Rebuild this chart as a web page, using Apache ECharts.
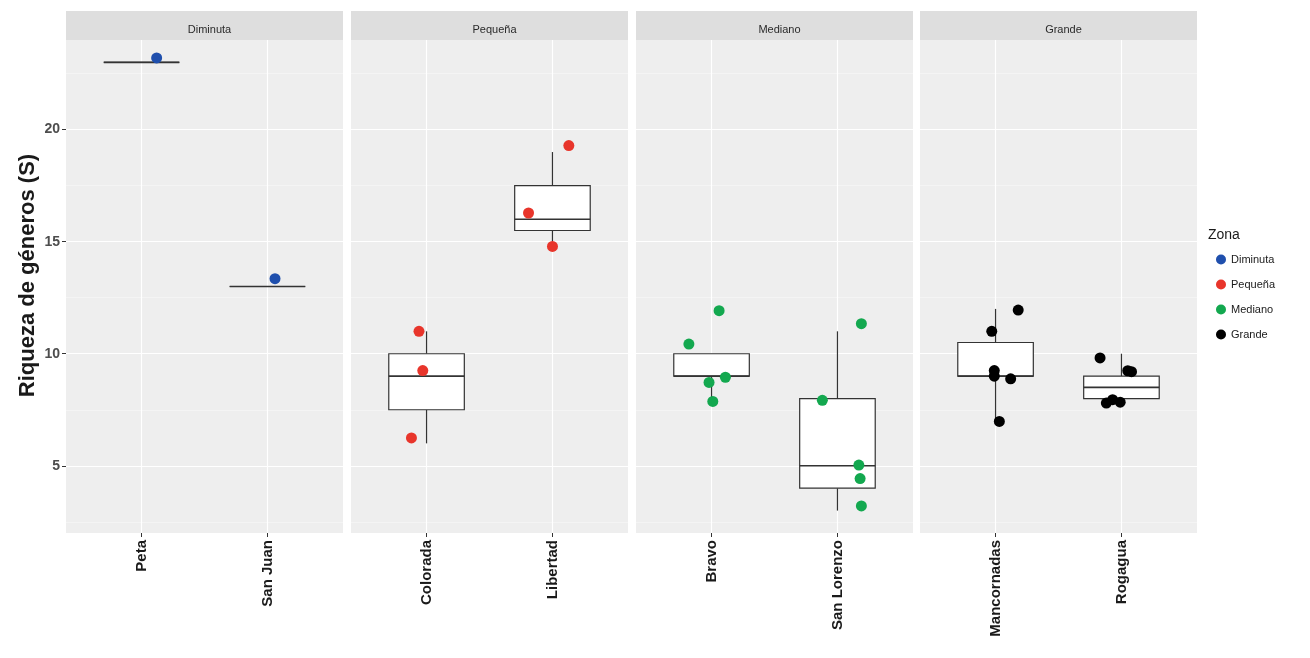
<!DOCTYPE html>
<html>
<head>
<meta charset="utf-8">
<script src="https://cdn.jsdelivr.net/npm/echarts@6/dist/echarts.min.js"></script>
<style>html,body{margin:0;padding:0;background:#fff}#c{width:1310px;height:658px}</style>
</head>
<body>
<div id="c"></div>
<script>
// ---- data ----
const zonas = ['Diminuta', 'Pequeña', 'Mediano', 'Grande'];
const colores = ['#1f4fad', '#e8352b', '#13a84f', '#000000'];
const sitios = [['Peta', 'San Juan'], ['Colorada', 'Libertad'], ['Bravo', 'San Lorenzo'], ['Mancornadas', 'Rogagua']];
const yTicks = [5, 10, 15, 20];
// box stats per site: [min, Q1, median, Q3, max]
const cajasDiminuta = [[23, 23, 23, 23, 23], [13, 13, 13, 13, 13]];
const cajasPequena = [[6, 7.5, 9, 10, 11], [15, 15.5, 16, 17.5, 19]];
const cajasMediano = [[8, 9, 9, 10, 10], [3, 4, 5, 8, 11]];
const cajasGrande = [[7, 9, 9, 10.5, 12], [8, 8, 8.5, 9, 10]];
// jittered points: [site position (1 or 2, jittered), riqueza]
const puntosDiminuta = [[1.12, 23.2], [2.06, 13.35]];
const puntosPequena = [[0.94, 11.0], [0.97, 9.25], [0.88, 6.24], [2.13, 19.29], [1.81, 16.28], [2.0, 14.79]];
const puntosMediano = [[1.06, 11.92], [0.82, 10.43], [0.98, 8.72], [1.11, 8.95], [1.01, 7.87],
  [2.19, 11.34], [1.88, 7.92], [2.17, 5.03], [2.18, 4.43], [2.19, 3.21]];
const puntosGrande = [[1.18, 11.95], [0.97, 11.0], [0.99, 9.25], [0.99, 9.0], [1.12, 8.88], [1.03, 6.98],
  [1.83, 9.81], [2.05, 9.24], [2.08, 9.2], [1.88, 7.8], [1.93, 7.95], [1.99, 7.84]];

const cajas = [cajasDiminuta, cajasPequena, cajasMediano, cajasGrande];
const puntos = [puntosDiminuta, puntosPequena, puntosMediano, puntosGrande];

// ---- layout ----
const FONT = '"Liberation Sans", Arial, sans-serif';
const panelLeft = [66, 351, 636, 920];
const panelW = 277, panelTop = 40, panelH = 493, stripTop = 11, stripH = 29;

const grids = [], xAxes = [], yAxes = [], series = [], titles = [];
panelLeft.forEach((L, i) => {
  grids.push({ left: L, top: panelTop, width: panelW, height: panelH, show: true, backgroundColor: '#eeeeee', borderWidth: 0 });
  grids.push({ left: L, top: stripTop, width: panelW, height: stripH, show: true, backgroundColor: '#dedede', borderWidth: 0 });
  titles.push({ text: zonas[i], left: L + panelW / 2, top: stripTop + 8, textAlign: 'center',
    textStyle: { fontSize: 11, fontWeight: 'normal', color: '#2a2a2a', fontFamily: FONT } });
  const labs = sitios[i];
  xAxes.push({
    type: 'value', gridIndex: 2 * i, min: 0.4, max: 2.6, splitNumber: 2, minInterval: 1, maxInterval: 1,
    axisLine: { show: false },
    axisTick: { show: true, length: 4, lineStyle: { color: '#333' }, customValues: [1, 2] },
    axisLabel: { show: true, customValues: [1, 2], rotate: 90, margin: 7, fontSize: 15, fontWeight: 'bold', color: '#1a1a1a', fontFamily: FONT,
      formatter: v => (Math.abs(v - 1) < 1e-6 ? labs[0] : (Math.abs(v - 2) < 1e-6 ? labs[1] : '')) },
    splitLine: { show: true, lineStyle: { color: '#ffffff', width: 1.2 } }
  });
  yAxes.push({
    type: 'value', gridIndex: 2 * i, min: 2, max: 24, splitNumber: 5,
    name: i === 0 ? 'Riqueza de géneros (S)' : '', nameLocation: 'middle', nameGap: 27,
    nameTextStyle: { fontSize: 22, fontWeight: 'bold', color: '#1a1a1a', fontFamily: FONT, padding: [0, 0, 0, 22] },
    axisLine: { show: false },
    axisTick: { show: i === 0, length: 4, lineStyle: { color: '#333' }, customValues: yTicks },
    axisLabel: { show: i === 0, customValues: yTicks, margin: 6, fontSize: 14, fontWeight: 'bold', color: '#4d4d4d', fontFamily: FONT },
    splitLine: { show: true, lineStyle: { color: '#ffffff', width: 1.2 } },
    minorTick: { show: false, splitNumber: 2 },
    minorSplitLine: { show: true, lineStyle: { color: '#f8f8f8', width: 0.6 } }
  });
  series.push({
    type: 'custom', name: 'caja' + i, xAxisIndex: i, yAxisIndex: i, z: 2,
    data: cajas[i].map((s, k) => [k + 1].concat(s)),
    encode: { x: 0, y: [1, 2, 3, 4, 5] },
    renderItem: function (params, api) {
      const x = api.value(0);
      const lo = api.coord([x, api.value(1)]);
      const q1 = api.coord([x, api.value(2)]);
      const md = api.coord([x, api.value(3)]);
      const q3 = api.coord([x, api.value(4)]);
      const hi = api.coord([x, api.value(5)]);
      const hw = api.size([0.6, 0])[0] / 2;
      const st = { stroke: '#333333', lineWidth: 1.2, fill: null };
      return { type: 'group', children: [
        { type: 'line', shape: { x1: lo[0], y1: lo[1], x2: q1[0], y2: q1[1] }, style: st },
        { type: 'line', shape: { x1: q3[0], y1: q3[1], x2: hi[0], y2: hi[1] }, style: st },
        { type: 'rect', shape: { x: q1[0] - hw, y: q3[1], width: 2 * hw, height: q1[1] - q3[1] }, style: { fill: '#ffffff', stroke: '#333333', lineWidth: 1.2 } },
        { type: 'line', shape: { x1: md[0] - hw, y1: md[1], x2: md[0] + hw, y2: md[1] }, style: { stroke: '#333333', lineWidth: 1.6 } }
      ] };
    }
  });
});
panelLeft.forEach((L, i) => {
  series.push({
    type: 'scatter', name: zonas[i], xAxisIndex: i, yAxisIndex: i, z: 3,
    symbol: 'circle', symbolSize: 11, itemStyle: { color: colores[i], opacity: 1 },
    data: puntos[i]
  });
});
titles.push({ text: 'Zona', left: 1203, top: 223, textStyle: { fontSize: 14, fontWeight: 'normal', color: '#1a1a1a', fontFamily: FONT } });

const chart = echarts.init(document.getElementById('c'), null, { renderer: 'canvas' });
chart.setOption({
  animation: false,
  backgroundColor: '#ffffff',
  title: titles,
  grid: grids,
  xAxis: xAxes,
  yAxis: yAxes,
  legend: {
    data: zonas, orient: 'vertical', left: 1211, top: 249, itemGap: 14, itemWidth: 10, itemHeight: 10, icon: 'circle',
    textStyle: { fontSize: 11, color: '#1a1a1a', fontFamily: FONT }
  },
  series: series
});
</script>
</body>
</html>
